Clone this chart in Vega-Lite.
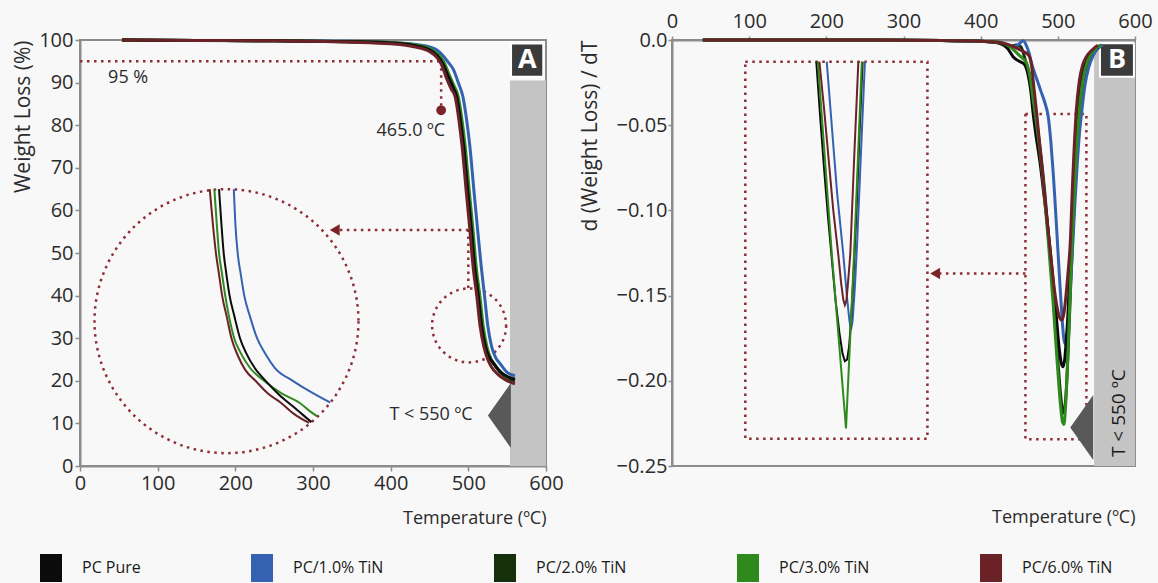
{
"$schema": "https://vega.github.io/schema/vega-lite/v6.json",
"background": "#f8f8f8",
"padding": {"left": 11, "top": 10, "right": 5, "bottom": 0},
"bounds": "flush",
"spacing": 126,
"config": {
  "font": "Open Sans",
  "view": {"stroke": "#8c8c8c", "strokeWidth": 2},
  "axis": {"labelFont": "Open Sans", "labelFontSize": 20, "labelColor": "#2b2b2b", "titleFont": "Open Sans", "titleFontSize": 18, "titleFontWeight": "normal", "titleColor": "#2b2b2b", "domainColor": "#8c8c8c", "domainWidth": 2, "tickColor": "#8c8c8c", "tickWidth": 1.5, "tickSize": 5, "grid": false, "labelFlush": false},
  "legend": {"labelFont": "Open Sans", "labelFontSize": 16, "labelColor": "#1a1a1a"}
},
"datasets": {
  "tga": [
    {"s":"PC/1.0% TiN","t":54,"w":100},{"s":"PC/1.0% TiN","t":150,"w":99.9},{"s":"PC/1.0% TiN","t":250,"w":99.8},{"s":"PC/1.0% TiN","t":350,"w":99.7},{"s":"PC/1.0% TiN","t":400,"w":99.4},{"s":"PC/1.0% TiN","t":430,"w":99},{"s":"PC/1.0% TiN","t":450,"w":98.4},{"s":"PC/1.0% TiN","t":460,"w":97.6},{"s":"PC/1.0% TiN","t":468,"w":96.2},{"s":"PC/1.0% TiN","t":474,"w":94.8},{"s":"PC/1.0% TiN","t":481,"w":93},{"s":"PC/1.0% TiN","t":487,"w":90},{"s":"PC/1.0% TiN","t":493,"w":86.7},{"s":"PC/1.0% TiN","t":498,"w":81},{"s":"PC/1.0% TiN","t":502,"w":75},{"s":"PC/1.0% TiN","t":507,"w":65},{"s":"PC/1.0% TiN","t":512,"w":55.4},{"s":"PC/1.0% TiN","t":516.5,"w":47},{"s":"PC/1.0% TiN","t":521,"w":39.7},{"s":"PC/1.0% TiN","t":525,"w":33},{"s":"PC/1.0% TiN","t":530,"w":28},{"s":"PC/1.0% TiN","t":535,"w":25.5},{"s":"PC/1.0% TiN","t":541,"w":24},{"s":"PC/1.0% TiN","t":550,"w":22},{"s":"PC/1.0% TiN","t":560,"w":21.2},
    {"s":"PC/2.0% TiN","t":54,"w":100},{"s":"PC/2.0% TiN","t":150,"w":99.9},{"s":"PC/2.0% TiN","t":250,"w":99.8},{"s":"PC/2.0% TiN","t":350,"w":99.6},{"s":"PC/2.0% TiN","t":400,"w":99.3},{"s":"PC/2.0% TiN","t":430,"w":98.8},{"s":"PC/2.0% TiN","t":450,"w":97.8},{"s":"PC/2.0% TiN","t":460,"w":96.5},{"s":"PC/2.0% TiN","t":468,"w":94.6},{"s":"PC/2.0% TiN","t":475,"w":91.5},{"s":"PC/2.0% TiN","t":481,"w":89},{"s":"PC/2.0% TiN","t":486,"w":86.7},{"s":"PC/2.0% TiN","t":491,"w":81},{"s":"PC/2.0% TiN","t":495,"w":75},{"s":"PC/2.0% TiN","t":500,"w":65},{"s":"PC/2.0% TiN","t":505,"w":55.4},{"s":"PC/2.0% TiN","t":509,"w":47},{"s":"PC/2.0% TiN","t":514,"w":39.7},{"s":"PC/2.0% TiN","t":518,"w":33},{"s":"PC/2.0% TiN","t":523,"w":28},{"s":"PC/2.0% TiN","t":528,"w":25.3},{"s":"PC/2.0% TiN","t":533,"w":23.9},{"s":"PC/2.0% TiN","t":541,"w":22},{"s":"PC/2.0% TiN","t":551,"w":20.6},{"s":"PC/2.0% TiN","t":560,"w":20},
    {"s":"PC/3.0% TiN","t":54,"w":100},{"s":"PC/3.0% TiN","t":150,"w":99.9},{"s":"PC/3.0% TiN","t":250,"w":99.8},{"s":"PC/3.0% TiN","t":350,"w":99.6},{"s":"PC/3.0% TiN","t":400,"w":99.4},{"s":"PC/3.0% TiN","t":430,"w":98.9},{"s":"PC/3.0% TiN","t":450,"w":98},{"s":"PC/3.0% TiN","t":460,"w":96.8},{"s":"PC/3.0% TiN","t":468,"w":95},{"s":"PC/3.0% TiN","t":475,"w":92},{"s":"PC/3.0% TiN","t":481,"w":89.5},{"s":"PC/3.0% TiN","t":487,"w":86.7},{"s":"PC/3.0% TiN","t":492,"w":81},{"s":"PC/3.0% TiN","t":496,"w":75},{"s":"PC/3.0% TiN","t":501,"w":65},{"s":"PC/3.0% TiN","t":506,"w":55.4},{"s":"PC/3.0% TiN","t":510,"w":47},{"s":"PC/3.0% TiN","t":515,"w":39.7},{"s":"PC/3.0% TiN","t":519,"w":33},{"s":"PC/3.0% TiN","t":524,"w":28},{"s":"PC/3.0% TiN","t":529,"w":25.2},{"s":"PC/3.0% TiN","t":534,"w":23.8},{"s":"PC/3.0% TiN","t":542,"w":22},{"s":"PC/3.0% TiN","t":551,"w":20.8},{"s":"PC/3.0% TiN","t":560,"w":20.4},
    {"s":"PC Pure","t":54,"w":100},{"s":"PC Pure","t":150,"w":99.9},{"s":"PC Pure","t":250,"w":99.8},{"s":"PC Pure","t":350,"w":99.6},{"s":"PC Pure","t":400,"w":99.3},{"s":"PC Pure","t":430,"w":98.7},{"s":"PC Pure","t":450,"w":97.7},{"s":"PC Pure","t":460,"w":96.3},{"s":"PC Pure","t":467,"w":94.5},{"s":"PC Pure","t":474,"w":91.5},{"s":"PC Pure","t":480,"w":89},{"s":"PC Pure","t":485,"w":86.7},{"s":"PC Pure","t":490,"w":81},{"s":"PC Pure","t":494,"w":75},{"s":"PC Pure","t":499,"w":65},{"s":"PC Pure","t":504,"w":55.4},{"s":"PC Pure","t":508,"w":47},{"s":"PC Pure","t":513,"w":39.7},{"s":"PC Pure","t":517,"w":33},{"s":"PC Pure","t":522,"w":28},{"s":"PC Pure","t":527,"w":25.5},{"s":"PC Pure","t":532,"w":24.2},{"s":"PC Pure","t":540,"w":22.3},{"s":"PC Pure","t":550,"w":21},{"s":"PC Pure","t":560,"w":20.3},
    {"s":"PC/6.0% TiN","t":54,"w":100},{"s":"PC/6.0% TiN","t":150,"w":99.9},{"s":"PC/6.0% TiN","t":250,"w":99.8},{"s":"PC/6.0% TiN","t":350,"w":99.5},{"s":"PC/6.0% TiN","t":400,"w":99.1},{"s":"PC/6.0% TiN","t":430,"w":98.4},{"s":"PC/6.0% TiN","t":450,"w":97.3},{"s":"PC/6.0% TiN","t":460,"w":95.8},{"s":"PC/6.0% TiN","t":466,"w":94},{"s":"PC/6.0% TiN","t":472,"w":91},{"s":"PC/6.0% TiN","t":478,"w":88.5},{"s":"PC/6.0% TiN","t":483,"w":86.7},{"s":"PC/6.0% TiN","t":488,"w":81},{"s":"PC/6.0% TiN","t":492,"w":75},{"s":"PC/6.0% TiN","t":497,"w":65},{"s":"PC/6.0% TiN","t":502,"w":55.4},{"s":"PC/6.0% TiN","t":506,"w":47},{"s":"PC/6.0% TiN","t":511,"w":39.7},{"s":"PC/6.0% TiN","t":515,"w":33},{"s":"PC/6.0% TiN","t":520,"w":28},{"s":"PC/6.0% TiN","t":525,"w":25},{"s":"PC/6.0% TiN","t":530,"w":23.2},{"s":"PC/6.0% TiN","t":538,"w":21.5},{"s":"PC/6.0% TiN","t":548,"w":20.2},{"s":"PC/6.0% TiN","t":560,"w":19.3}
  ],
  "tgaInset": [
    {"s":"PC/1.0% TiN","t":198,"w":65},{"s":"PC/1.0% TiN","t":200,"w":57},{"s":"PC/1.0% TiN","t":203,"w":50},{"s":"PC/1.0% TiN","t":207,"w":45},{"s":"PC/1.0% TiN","t":211.5,"w":40},{"s":"PC/1.0% TiN","t":219,"w":35},{"s":"PC/1.0% TiN","t":228,"w":30},{"s":"PC/1.0% TiN","t":238,"w":26.5},{"s":"PC/1.0% TiN","t":251,"w":23},{"s":"PC/1.0% TiN","t":274,"w":20},{"s":"PC/1.0% TiN","t":296,"w":17.5},{"s":"PC/1.0% TiN","t":322,"w":14.9},
    {"s":"PC/3.0% TiN","t":173,"w":65},{"s":"PC/3.0% TiN","t":176,"w":57},{"s":"PC/3.0% TiN","t":179,"w":50},{"s":"PC/3.0% TiN","t":183,"w":45},{"s":"PC/3.0% TiN","t":187,"w":40},{"s":"PC/3.0% TiN","t":192,"w":35},{"s":"PC/3.0% TiN","t":198.5,"w":30},{"s":"PC/3.0% TiN","t":207,"w":26.5},{"s":"PC/3.0% TiN","t":219,"w":23},{"s":"PC/3.0% TiN","t":237,"w":20},{"s":"PC/3.0% TiN","t":260,"w":17},{"s":"PC/3.0% TiN","t":283,"w":14.8},{"s":"PC/3.0% TiN","t":295,"w":13},{"s":"PC/3.0% TiN","t":305,"w":11.7},
    {"s":"PC Pure","t":179,"w":65},{"s":"PC Pure","t":182,"w":57},{"s":"PC Pure","t":185,"w":50},{"s":"PC Pure","t":188.5,"w":45},{"s":"PC Pure","t":192.6,"w":40},{"s":"PC Pure","t":199,"w":35},{"s":"PC Pure","t":206,"w":30},{"s":"PC Pure","t":214,"w":26.5},{"s":"PC Pure","t":225,"w":23},{"s":"PC Pure","t":239,"w":20},{"s":"PC Pure","t":256,"w":16.8},{"s":"PC Pure","t":274,"w":14},{"s":"PC Pure","t":287,"w":12},{"s":"PC Pure","t":298,"w":10.3},
    {"s":"PC/6.0% TiN","t":167,"w":65},{"s":"PC/6.0% TiN","t":171,"w":57},{"s":"PC/6.0% TiN","t":175,"w":50},{"s":"PC/6.0% TiN","t":179,"w":45},{"s":"PC/6.0% TiN","t":183,"w":40},{"s":"PC/6.0% TiN","t":189,"w":35},{"s":"PC/6.0% TiN","t":195,"w":30},{"s":"PC/6.0% TiN","t":203,"w":26},{"s":"PC/6.0% TiN","t":213,"w":22.5},{"s":"PC/6.0% TiN","t":226,"w":20},{"s":"PC/6.0% TiN","t":242,"w":17},{"s":"PC/6.0% TiN","t":259,"w":14.8},{"s":"PC/6.0% TiN","t":275,"w":12.3},{"s":"PC/6.0% TiN","t":295,"w":10.1}
  ],
  "dtg": [
    {"s":"PC/2.0% TiN","t":40,"d":0},{"s":"PC/2.0% TiN","t":200,"d":0},{"s":"PC/2.0% TiN","t":350,"d":-0.0003},{"s":"PC/2.0% TiN","t":400,"d":-0.0008},{"s":"PC/2.0% TiN","t":425,"d":-0.0015},{"s":"PC/2.0% TiN","t":438,"d":-0.004},{"s":"PC/2.0% TiN","t":446,"d":-0.003},{"s":"PC/2.0% TiN","t":452,"d":-0.004},{"s":"PC/2.0% TiN","t":458,"d":-0.012},{"s":"PC/2.0% TiN","t":464,"d":-0.022},{"s":"PC/2.0% TiN","t":469,"d":-0.036},{"s":"PC/2.0% TiN","t":473,"d":-0.049},{"s":"PC/2.0% TiN","t":478,"d":-0.067},{"s":"PC/2.0% TiN","t":483,"d":-0.089},{"s":"PC/2.0% TiN","t":489,"d":-0.121},{"s":"PC/2.0% TiN","t":495,"d":-0.156},{"s":"PC/2.0% TiN","t":500,"d":-0.188},{"s":"PC/2.0% TiN","t":504,"d":-0.21},{"s":"PC/2.0% TiN","t":507,"d":-0.219},{"s":"PC/2.0% TiN","t":509,"d":-0.216},{"s":"PC/2.0% TiN","t":511,"d":-0.205},{"s":"PC/2.0% TiN","t":514,"d":-0.175},{"s":"PC/2.0% TiN","t":517,"d":-0.14},{"s":"PC/2.0% TiN","t":519,"d":-0.118},{"s":"PC/2.0% TiN","t":522,"d":-0.088},{"s":"PC/2.0% TiN","t":525,"d":-0.063},{"s":"PC/2.0% TiN","t":528,"d":-0.044},{"s":"PC/2.0% TiN","t":532,"d":-0.027},{"s":"PC/2.0% TiN","t":537,"d":-0.016},{"s":"PC/2.0% TiN","t":543,"d":-0.009},{"s":"PC/2.0% TiN","t":550,"d":-0.005},{"s":"PC/2.0% TiN","t":556,"d":-0.003},
    {"s":"PC/1.0% TiN","t":40,"d":0},{"s":"PC/1.0% TiN","t":200,"d":0},{"s":"PC/1.0% TiN","t":350,"d":-0.0003},{"s":"PC/1.0% TiN","t":400,"d":-0.0008},{"s":"PC/1.0% TiN","t":425,"d":-0.0015},{"s":"PC/1.0% TiN","t":440,"d":-0.004},{"s":"PC/1.0% TiN","t":448,"d":-0.003},{"s":"PC/1.0% TiN","t":455,"d":-0.0005},{"s":"PC/1.0% TiN","t":459,"d":-0.003},{"s":"PC/1.0% TiN","t":463,"d":-0.008},{"s":"PC/1.0% TiN","t":466,"d":-0.0137},{"s":"PC/1.0% TiN","t":472,"d":-0.022},{"s":"PC/1.0% TiN","t":478,"d":-0.03},{"s":"PC/1.0% TiN","t":484,"d":-0.038},{"s":"PC/1.0% TiN","t":487.6,"d":-0.045},{"s":"PC/1.0% TiN","t":491,"d":-0.06},{"s":"PC/1.0% TiN","t":494,"d":-0.078},{"s":"PC/1.0% TiN","t":496,"d":-0.092},{"s":"PC/1.0% TiN","t":499,"d":-0.115},{"s":"PC/1.0% TiN","t":502,"d":-0.138},{"s":"PC/1.0% TiN","t":505,"d":-0.16},{"s":"PC/1.0% TiN","t":508,"d":-0.176},{"s":"PC/1.0% TiN","t":510,"d":-0.1785},{"s":"PC/1.0% TiN","t":512,"d":-0.172},{"s":"PC/1.0% TiN","t":515,"d":-0.155},{"s":"PC/1.0% TiN","t":519,"d":-0.123},{"s":"PC/1.0% TiN","t":522,"d":-0.097},{"s":"PC/1.0% TiN","t":525,"d":-0.074},{"s":"PC/1.0% TiN","t":528,"d":-0.055},{"s":"PC/1.0% TiN","t":531,"d":-0.042},{"s":"PC/1.0% TiN","t":535,"d":-0.027},{"s":"PC/1.0% TiN","t":540,"d":-0.016},{"s":"PC/1.0% TiN","t":546,"d":-0.009},{"s":"PC/1.0% TiN","t":552,"d":-0.005},{"s":"PC/1.0% TiN","t":558,"d":-0.003},
    {"s":"PC Pure","t":40,"d":0},{"s":"PC Pure","t":200,"d":0},{"s":"PC Pure","t":350,"d":-0.0003},{"s":"PC Pure","t":400,"d":-0.0008},{"s":"PC Pure","t":425,"d":-0.002},{"s":"PC Pure","t":435,"d":-0.005},{"s":"PC Pure","t":442,"d":-0.0098},{"s":"PC Pure","t":450,"d":-0.0125},{"s":"PC Pure","t":456,"d":-0.014},{"s":"PC Pure","t":461,"d":-0.0195},{"s":"PC Pure","t":465,"d":-0.03},{"s":"PC Pure","t":468,"d":-0.043},{"s":"PC Pure","t":472,"d":-0.057},{"s":"PC Pure","t":477,"d":-0.072},{"s":"PC Pure","t":481,"d":-0.087},{"s":"PC Pure","t":485.5,"d":-0.104},{"s":"PC Pure","t":490,"d":-0.123},{"s":"PC Pure","t":494,"d":-0.142},{"s":"PC Pure","t":498,"d":-0.162},{"s":"PC Pure","t":502,"d":-0.182},{"s":"PC Pure","t":505,"d":-0.1905},{"s":"PC Pure","t":507,"d":-0.1917},{"s":"PC Pure","t":509,"d":-0.187},{"s":"PC Pure","t":511,"d":-0.176},{"s":"PC Pure","t":513,"d":-0.162},{"s":"PC Pure","t":515,"d":-0.142},{"s":"PC Pure","t":517,"d":-0.123},{"s":"PC Pure","t":520,"d":-0.09},{"s":"PC Pure","t":523,"d":-0.062},{"s":"PC Pure","t":525.5,"d":-0.043},{"s":"PC Pure","t":529,"d":-0.026},{"s":"PC Pure","t":533,"d":-0.016},{"s":"PC Pure","t":538,"d":-0.01},{"s":"PC Pure","t":545,"d":-0.006},{"s":"PC Pure","t":553,"d":-0.004},
    {"s":"PC/3.0% TiN","t":40,"d":0},{"s":"PC/3.0% TiN","t":200,"d":0},{"s":"PC/3.0% TiN","t":350,"d":-0.0003},{"s":"PC/3.0% TiN","t":400,"d":-0.0008},{"s":"PC/3.0% TiN","t":425,"d":-0.0015},{"s":"PC/3.0% TiN","t":438,"d":-0.004},{"s":"PC/3.0% TiN","t":450,"d":-0.009},{"s":"PC/3.0% TiN","t":459.6,"d":-0.0137},{"s":"PC/3.0% TiN","t":464,"d":-0.022},{"s":"PC/3.0% TiN","t":468,"d":-0.035},{"s":"PC/3.0% TiN","t":472,"d":-0.048},{"s":"PC/3.0% TiN","t":477,"d":-0.066},{"s":"PC/3.0% TiN","t":482,"d":-0.088},{"s":"PC/3.0% TiN","t":488,"d":-0.12},{"s":"PC/3.0% TiN","t":494,"d":-0.155},{"s":"PC/3.0% TiN","t":499,"d":-0.188},{"s":"PC/3.0% TiN","t":503,"d":-0.212},{"s":"PC/3.0% TiN","t":506,"d":-0.224},{"s":"PC/3.0% TiN","t":508,"d":-0.2255},{"s":"PC/3.0% TiN","t":510,"d":-0.215},{"s":"PC/3.0% TiN","t":513,"d":-0.185},{"s":"PC/3.0% TiN","t":516,"d":-0.148},{"s":"PC/3.0% TiN","t":518,"d":-0.123},{"s":"PC/3.0% TiN","t":521,"d":-0.092},{"s":"PC/3.0% TiN","t":524,"d":-0.066},{"s":"PC/3.0% TiN","t":527,"d":-0.046},{"s":"PC/3.0% TiN","t":531,"d":-0.028},{"s":"PC/3.0% TiN","t":536,"d":-0.016},{"s":"PC/3.0% TiN","t":542,"d":-0.009},{"s":"PC/3.0% TiN","t":549,"d":-0.005},{"s":"PC/3.0% TiN","t":556,"d":-0.003},
    {"s":"PC/6.0% TiN","t":40,"d":0},{"s":"PC/6.0% TiN","t":200,"d":0},{"s":"PC/6.0% TiN","t":350,"d":-0.0003},{"s":"PC/6.0% TiN","t":400,"d":-0.0008},{"s":"PC/6.0% TiN","t":425,"d":-0.0015},{"s":"PC/6.0% TiN","t":438,"d":-0.003},{"s":"PC/6.0% TiN","t":452,"d":-0.006},{"s":"PC/6.0% TiN","t":462,"d":-0.0088},{"s":"PC/6.0% TiN","t":466,"d":-0.015},{"s":"PC/6.0% TiN","t":469,"d":-0.028},{"s":"PC/6.0% TiN","t":472.6,"d":-0.043},{"s":"PC/6.0% TiN","t":477,"d":-0.064},{"s":"PC/6.0% TiN","t":483,"d":-0.092},{"s":"PC/6.0% TiN","t":490,"d":-0.123},{"s":"PC/6.0% TiN","t":496,"d":-0.148},{"s":"PC/6.0% TiN","t":501,"d":-0.161},{"s":"PC/6.0% TiN","t":505,"d":-0.1645},{"s":"PC/6.0% TiN","t":508,"d":-0.16},{"s":"PC/6.0% TiN","t":511,"d":-0.148},{"s":"PC/6.0% TiN","t":513.5,"d":-0.135},{"s":"PC/6.0% TiN","t":516,"d":-0.12},{"s":"PC/6.0% TiN","t":519,"d":-0.085},{"s":"PC/6.0% TiN","t":521.5,"d":-0.06},{"s":"PC/6.0% TiN","t":523.6,"d":-0.043},{"s":"PC/6.0% TiN","t":528,"d":-0.0235},{"s":"PC/6.0% TiN","t":532,"d":-0.015},{"s":"PC/6.0% TiN","t":537,"d":-0.0098},{"s":"PC/6.0% TiN","t":544,"d":-0.006},{"s":"PC/6.0% TiN","t":552,"d":-0.003}
  ],
  "dtgInset": [
    {"s":"PC/1.0% TiN","t":200.5,"d":-0.0127},{"s":"PC/1.0% TiN","t":207,"d":-0.05},{"s":"PC/1.0% TiN","t":214,"d":-0.09},{"s":"PC/1.0% TiN","t":222,"d":-0.126},{"s":"PC/1.0% TiN","t":227,"d":-0.152},{"s":"PC/1.0% TiN","t":230,"d":-0.165},{"s":"PC/1.0% TiN","t":232,"d":-0.17},{"s":"PC/1.0% TiN","t":234,"d":-0.165},{"s":"PC/1.0% TiN","t":237,"d":-0.145},{"s":"PC/1.0% TiN","t":240,"d":-0.118},{"s":"PC/1.0% TiN","t":245,"d":-0.065},{"s":"PC/1.0% TiN","t":250,"d":-0.0127},
    {"s":"PC Pure","t":187,"d":-0.0127},{"s":"PC Pure","t":192,"d":-0.045},{"s":"PC Pure","t":197,"d":-0.075},{"s":"PC Pure","t":202,"d":-0.103},{"s":"PC Pure","t":207,"d":-0.128},{"s":"PC Pure","t":212,"d":-0.153},{"s":"PC Pure","t":217,"d":-0.172},{"s":"PC Pure","t":221,"d":-0.184},{"s":"PC Pure","t":224,"d":-0.1885},{"s":"PC Pure","t":227,"d":-0.1875},{"s":"PC Pure","t":229.5,"d":-0.18},{"s":"PC Pure","t":232,"d":-0.165},{"s":"PC Pure","t":235,"d":-0.14},{"s":"PC Pure","t":239,"d":-0.1},{"s":"PC Pure","t":243,"d":-0.055},{"s":"PC Pure","t":247,"d":-0.0127},
    {"s":"PC/3.0% TiN","t":189,"d":-0.0127},{"s":"PC/3.0% TiN","t":207,"d":-0.125},{"s":"PC/3.0% TiN","t":225.5,"d":-0.228},{"s":"PC/3.0% TiN","t":236,"d":-0.125},{"s":"PC/3.0% TiN","t":246,"d":-0.0127},
    {"s":"PC/6.0% TiN","t":191,"d":-0.0127},{"s":"PC/6.0% TiN","t":197,"d":-0.04},{"s":"PC/6.0% TiN","t":203,"d":-0.07},{"s":"PC/6.0% TiN","t":209,"d":-0.1},{"s":"PC/6.0% TiN","t":215.5,"d":-0.126},{"s":"PC/6.0% TiN","t":219,"d":-0.142},{"s":"PC/6.0% TiN","t":222,"d":-0.1525},{"s":"PC/6.0% TiN","t":224,"d":-0.1555},{"s":"PC/6.0% TiN","t":226,"d":-0.153},{"s":"PC/6.0% TiN","t":228,"d":-0.143},{"s":"PC/6.0% TiN","t":231,"d":-0.126},{"s":"PC/6.0% TiN","t":236,"d":-0.07},{"s":"PC/6.0% TiN","t":241.5,"d":-0.0127}
  ],
  "aRules": [
    {"x":0,"x2":465,"y":95,"y2":95},
    {"x":465,"x2":465,"y":95,"y2":84},
    {"x":500,"x2":500,"y":41.8,"y2":55.4},
    {"x":500,"x2":333,"y":55.4,"y2":55.4}
  ],
  "bRects": [
    {"x":95,"x2":331,"y":-0.0127,"y2":-0.234},
    {"x":458,"x2":537,"y":-0.0434,"y2":-0.2343}
  ]
},
"hconcat": [
  {
    "width": 466, "height": 426,
    "layer": [
      {"data": {"values": [{}]}, "mark": {"type": "rect", "fill": "#c4c4c4"},
       "encoding": {
         "x": {"datum": 553.6, "type": "quantitative", "scale": {"domain": [0, 600], "nice": false, "zero": false},
               "axis": {"values": [0,100,200,300,400,500,600], "title": "Temperature (ºC)", "titleAnchor": "end", "titlePadding": 16, "labelPadding": 2}},
         "x2": {"datum": 600},
         "y": {"datum": 0, "type": "quantitative", "scale": {"domain": [0, 100], "nice": false, "zero": false},
               "axis": {"values": [0,10,20,30,40,50,60,70,80,90,100], "title": "Weight Loss (%)", "titleFontSize": 21, "titleAnchor": "end", "titlePadding": 5, "labelPadding": 2}},
         "y2": {"datum": 90.5}}},
      {"data": {"values": [{}]}, "mark": {"type": "rect", "fill": "#3b3b3b", "stroke": "#ffffff", "strokeWidth": 2},
       "encoding": {"x": {"datum": 555}, "x2": {"datum": 596.5}, "y": {"datum": 99.2}, "y2": {"datum": 91.4}}},
      {"data": {"values": [{}]}, "mark": {"type": "text", "text": "A", "fill": "#ffffff", "fontSize": 27, "fontWeight": "bold"},
       "encoding": {"x": {"datum": 575.8}, "y": {"datum": 95.3}}},
      {"data": {"values": [{}]}, "mark": {"type": "point", "shape": "circle", "size": 69696, "filled": false, "stroke": "#8e2d34", "strokeWidth": 2.5, "strokeDash": [2.5, 4.5], "opacity": 1},
       "encoding": {"x": {"datum": 188.6}, "y": {"datum": 34}}},
      {"data": {"values": [{}]}, "mark": {"type": "point", "shape": "circle", "size": 5476, "filled": false, "stroke": "#8e2d34", "strokeWidth": 2.5, "strokeDash": [2.5, 4.5], "opacity": 1},
       "encoding": {"x": {"datum": 501}, "y": {"datum": 33}}},
      {"data": {"name": "aRules"}, "mark": {"type": "rule", "stroke": "#8e2d34", "strokeWidth": 2.5, "strokeDash": [2.5, 4.5]},
       "encoding": {"x": {"field": "x", "type": "quantitative"}, "x2": {"field": "x2"}, "y": {"field": "y", "type": "quantitative"}, "y2": {"field": "y2"}}},
      {"data": {"values": [{}]}, "mark": {"type": "point", "shape": "triangle-left", "size": 130, "filled": true, "fill": "#7a2329", "opacity": 1},
       "encoding": {"x": {"datum": 328}, "y": {"datum": 55.4}}},
      {"data": {"values": [{}]}, "mark": {"type": "point", "shape": "circle", "size": 95, "filled": true, "fill": "#7a2329", "opacity": 1},
       "encoding": {"x": {"datum": 465}, "y": {"datum": 83.5}}},
      {"data": {"values": [{}]}, "mark": {"type": "text", "text": "95 %", "fontSize": 18, "fill": "#2b2b2b"},
       "encoding": {"x": {"datum": 62}, "y": {"datum": 91}}},
      {"data": {"values": [{}]}, "mark": {"type": "text", "text": "465.0 ºC", "fontSize": 18, "fill": "#2b2b2b"},
       "encoding": {"x": {"datum": 426}, "y": {"datum": 78.7}}},
      {"data": {"values": [{}]}, "mark": {"type": "text", "text": "T < 550 ºC", "fontSize": 18, "fill": "#2b2b2b"},
       "encoding": {"x": {"datum": 452}, "y": {"datum": 12}}},
      {"data": {"values": [{}]}, "mark": {"type": "point", "shape": "M0.354,-1L-0.354,0L0.354,1Z", "size": 4225, "filled": true, "fill": "#595959", "opacity": 1, "strokeWidth": 0},
       "encoding": {"x": {"datum": 540}, "y": {"datum": 11.85}}},
      {"data": {"name": "tga"}, "mark": {"type": "line", "strokeWidth": 3, "interpolate": "monotone"},
       "encoding": {
         "x": {"field": "t", "type": "quantitative"},
         "y": {"field": "w", "type": "quantitative"},
         "color": {"field": "s", "type": "nominal",
                   "scale": {"domain": ["PC Pure", "PC/1.0% TiN", "PC/2.0% TiN", "PC/3.0% TiN", "PC/6.0% TiN"], "range": ["#0b0b0b", "#3562b0", "#15300b", "#2f8a1e", "#6b2227"]},
                   "legend": {"orient": "none", "legendX": -54, "legendY": 503, "direction": "horizontal", "title": null, "symbolType": "stroke", "symbolSize": 484, "symbolStrokeWidth": 28, "labelOffset": 6, "columnPadding": 54}}}},
      {"data": {"name": "tgaInset"}, "mark": {"type": "line", "strokeWidth": 2, "interpolate": "monotone"},
       "encoding": {
         "x": {"field": "t", "type": "quantitative"},
         "y": {"field": "w", "type": "quantitative"},
         "color": {"field": "s", "type": "nominal", "legend": null}}}
    ]
  },
  {
    "width": 463, "height": 426,
    "resolve": {"axis": {"x": "independent"}},
    "layer": [
      {"data": {"values": [{}]}, "mark": {"type": "rect", "fill": "#c4c4c4"},
       "encoding": {
         "x": {"datum": 547, "type": "quantitative", "scale": {"domain": [0, 600], "nice": false, "zero": false},
               "axis": {"orient": "top", "values": [0,100,200,300,400,500,600], "title": null, "labelPadding": 5, "tickSize": 4}},
         "x2": {"datum": 600},
         "y": {"datum": -0.25, "type": "quantitative", "scale": {"domain": [-0.25, 0], "nice": false, "zero": false},
               "axis": {"values": [0,-0.05,-0.1,-0.15,-0.2,-0.25], "labelExpr": "datum.value == 0 ? '0.0' : format(datum.value, '.2f')", "title": "d (Weight Loss) / dT", "titleFontSize": 21, "titleAnchor": "end", "titlePadding": 16, "labelPadding": 1, "tickSize": 4}},
         "y2": {"datum": -0.003}}},
      {"data": {"values": [{}]}, "mark": {"type": "rect", "fill": "#3b3b3b", "stroke": "#ffffff", "strokeWidth": 2},
       "encoding": {"x": {"datum": 554.6, "axis": null}, "x2": {"datum": 598.6}, "y": {"datum": -0.0019}, "y2": {"datum": -0.0215}}},
      {"data": {"values": [{}]}, "mark": {"type": "text", "text": "B", "fill": "#ffffff", "fontSize": 27, "fontWeight": "bold"},
       "encoding": {"x": {"datum": 576.6, "axis": null}, "y": {"datum": -0.0117}}},
      {"data": {"name": "bRects"}, "mark": {"type": "rect", "fill": null, "fillOpacity": 0, "stroke": "#8e2d34", "strokeWidth": 2.5, "strokeDash": [2.5, 4.5]},
       "encoding": {"x": {"field": "x", "type": "quantitative", "axis": null}, "x2": {"field": "x2"}, "y": {"field": "y", "type": "quantitative"}, "y2": {"field": "y2"}}},
      {"data": {"values": [{}]}, "mark": {"type": "rule", "stroke": "#8e2d34", "strokeWidth": 2.5, "strokeDash": [2.5, 4.5]},
       "encoding": {"x": {"datum": 458, "axis": null}, "x2": {"datum": 345}, "y": {"datum": -0.137}}},
      {"data": {"values": [{}]}, "mark": {"type": "point", "shape": "triangle-left", "size": 130, "filled": true, "fill": "#7a2329", "opacity": 1},
       "encoding": {"x": {"datum": 341, "axis": null}, "y": {"datum": -0.137}}},
      {"data": {"values": [{}]}, "mark": {"type": "point", "shape": "M0.354,-1L-0.354,0L0.354,1Z", "size": 4225, "filled": true, "fill": "#595959", "opacity": 1, "strokeWidth": 0},
       "encoding": {"x": {"datum": 531, "axis": null}, "y": {"datum": -0.2274}}},
      {"data": {"values": [{}]}, "mark": {"type": "text", "text": "T < 550 ºC", "fontSize": 19, "fill": "#1a1a1a", "angle": 270},
       "encoding": {"x": {"datum": 579.5, "axis": null}, "y": {"datum": -0.219}}},
      {"data": {"name": "dtg"}, "mark": {"type": "line", "strokeWidth": 3, "interpolate": "monotone"},
       "encoding": {
         "x": {"field": "t", "type": "quantitative", "axis": {"orient": "bottom", "title": "Temperature (ºC)", "titleAnchor": "end", "labels": false, "ticks": false, "domain": false, "titlePadding": 42}},
         "y": {"field": "d", "type": "quantitative"},
         "color": {"field": "s", "type": "nominal", "legend": null}}},
      {"data": {"name": "dtgInset"}, "mark": {"type": "line", "strokeWidth": 2},
       "encoding": {
         "x": {"field": "t", "type": "quantitative", "axis": null},
         "y": {"field": "d", "type": "quantitative"},
         "color": {"field": "s", "type": "nominal", "legend": null}}}
    ]
  }
]
}
